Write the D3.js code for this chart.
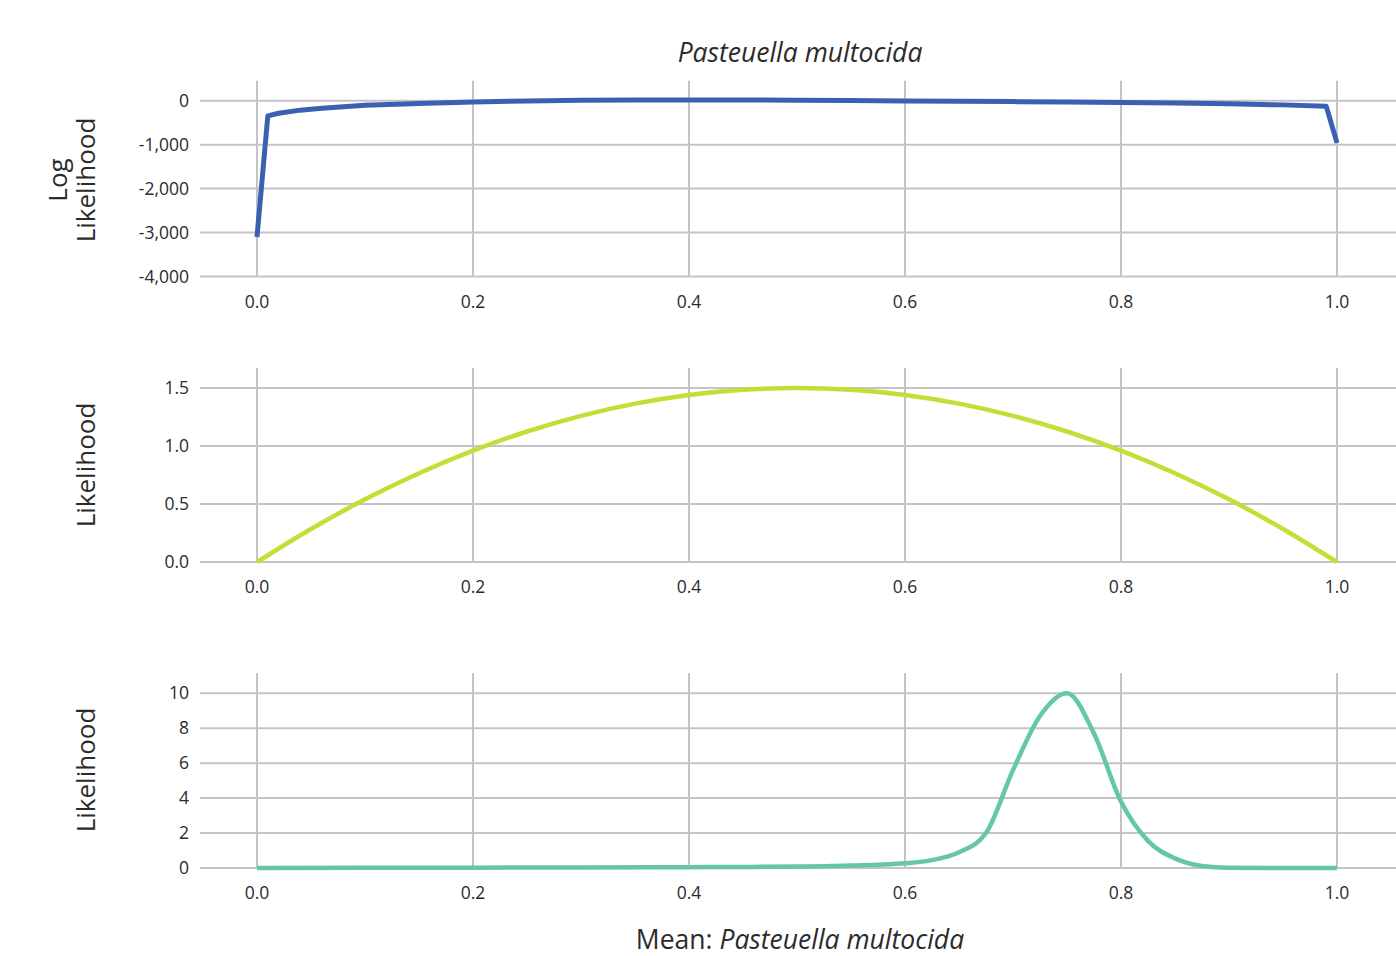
<!DOCTYPE html>
<html>
<head>
<meta charset="utf-8">
<script src="https://cdn.jsdelivr.net/npm/d3@7"></script>
<style>
  html, body { margin: 0; padding: 0; background: #fff; }
  svg { display: block; font-family: "Open Sans", "Noto Sans", sans-serif; }
</style>
</head>
<body>
<svg id="chart" width="1396" height="956"></svg>
<script>
// ---- data ----
const xTicks = [0.0, 0.2, 0.4, 0.6, 0.8, 1.0];

const logLikX = [0, 0.01, 0.02, 0.04, 0.06, 0.08, 0.1, 0.15, 0.2, 0.25, 0.3, 0.35, 0.4, 0.45, 0.5, 0.55, 0.6, 0.65, 0.7, 0.75, 0.8, 0.85, 0.9, 0.95, 0.99, 1.0];
const logLikY = [-3100, -345, -285, -215, -170, -135, -105, -62, -28, -5, 8, 15, 18, 16, 10, 3, -6, -13, -21, -30, -42, -55, -72, -95, -125, -960];
const logLikTicks = [0, -1000, -2000, -3000, -4000];

const likX = [0, 0.05, 0.1, 0.15, 0.2, 0.25, 0.3, 0.35, 0.4, 0.45, 0.5, 0.55, 0.6, 0.65, 0.7, 0.75, 0.8, 0.85, 0.9, 0.95, 1.0];
const likY = [0, 0.285, 0.54, 0.765, 0.96, 1.125, 1.26, 1.365, 1.44, 1.485, 1.5, 1.485, 1.44, 1.365, 1.26, 1.125, 0.96, 0.765, 0.54, 0.285, 0];
const likTicks = [0, 0.5, 1.0, 1.5];

const postX = [0, 0.1, 0.2, 0.3, 0.4, 0.45, 0.5, 0.525, 0.55, 0.575, 0.6, 0.625, 0.65, 0.675, 0.7, 0.725, 0.75, 0.775, 0.8, 0.825, 0.85, 0.875, 0.9, 0.95, 1.0];
const postY = [0, 0.01, 0.02, 0.03, 0.05, 0.06, 0.08, 0.1, 0.14, 0.19, 0.27, 0.45, 0.9, 2.0, 5.6, 8.7, 10.0, 7.7, 3.8, 1.55, 0.55, 0.12, 0.02, 0, 0];
const postTicks = [0, 2, 4, 6, 8, 10];

// ---- layout ----
const W = 1396;
const svg = d3.select("#chart");
const x = d3.scaleLinear().domain([0, 1]).range([257, 1337]);
const gridColor = "#c4c4c8";
const textColor = "#2b2b2b";
const hyphen = f => d => f(d).replace("\u2212", "-");

const panels = [
  { xs: logLikX, ys: logLikY, ticks: logLikTicks, domain: [-4000, 0], range: [276.5, 100.7], fmt: hyphen(d3.format(",")), color: "#3a61b0", width: 5, curve: d3.curveLinear },
  { xs: likX, ys: likY, ticks: likTicks, domain: [0, 1.5], range: [562, 388], fmt: d3.format(".1f"), color: "#c8dc37", width: 4.5, curve: d3.curveMonotoneX },
  { xs: postX, ys: postY, ticks: postTicks, domain: [0, 10], range: [868, 693.3], fmt: d3.format("d"), color: "#66c6aa", width: 4.5, curve: d3.curveMonotoneX }
];

panels.forEach(p => {
  const y = d3.scaleLinear().domain(p.domain).range(p.range);
  const g = svg.append("g");
  const yTop = p.range[1] - 20, yBot = p.range[0];

  // vertical grid
  g.selectAll("line.vg").data(xTicks).enter().append("line")
    .attr("x1", d => x(d)).attr("x2", d => x(d))
    .attr("y1", yTop).attr("y2", yBot)
    .attr("stroke", gridColor).attr("stroke-width", 2);

  // horizontal grid
  g.selectAll("line.hg").data(p.ticks).enter().append("line")
    .attr("x1", 200).attr("x2", W)
    .attr("y1", d => y(d)).attr("y2", d => y(d))
    .attr("stroke", gridColor).attr("stroke-width", 2);

  // y tick labels
  g.selectAll("text.yt").data(p.ticks).enter().append("text")
    .attr("x", 189).attr("y", d => y(d)).attr("dy", "0.35em")
    .attr("text-anchor", "end").attr("font-size", 17.5).attr("fill", textColor)
    .text(d => p.fmt(d));

  // x tick labels
  g.selectAll("text.xt").data(xTicks).enter().append("text")
    .attr("x", d => x(d)).attr("y", yBot + 25).attr("dy", "0.35em")
    .attr("text-anchor", "middle").attr("font-size", 17.5).attr("fill", textColor)
    .text(d => d3.format(".1f")(d));

  // line
  const data = p.xs.map((v, i) => [v, p.ys[i]]);
  g.append("path").datum(data)
    .attr("fill", "none").attr("stroke", p.color).attr("stroke-width", p.width)
    .attr("stroke-linejoin", "round")
    .attr("d", d3.line().x(d => x(d[0])).y(d => y(d[1])).curve(p.curve));
});

// title
svg.append("text").attr("x", 800).attr("y", 62).attr("text-anchor", "middle")
  .attr("font-size", 26.5).attr("font-style", "italic").attr("fill", textColor)
  .text("Pasteuella multocida");

// y axis labels
function yLabel(lines, cx, cy) {
  const t = svg.append("text").attr("transform", `translate(${cx},${cy}) rotate(-90)`)
    .attr("text-anchor", "middle").attr("font-size", 26).attr("fill", textColor);
  lines.forEach((l, i) => {
    t.append("tspan").attr("x", 0).attr("dy", i === 0 ? 0 : 28).text(l);
  });
}
yLabel(["Log", "Likelihood"], 67, 180);
yLabel(["Likelihood"], 95, 465);
yLabel(["Likelihood"], 95, 770);

// x axis title
const xt = svg.append("text").attr("x", 800).attr("y", 949).attr("text-anchor", "middle")
  .attr("font-size", 26.5).attr("fill", textColor);
xt.append("tspan").text("Mean: ");
xt.append("tspan").attr("font-style", "italic").text("Pasteuella multocida");
</script>
</body>
</html>
